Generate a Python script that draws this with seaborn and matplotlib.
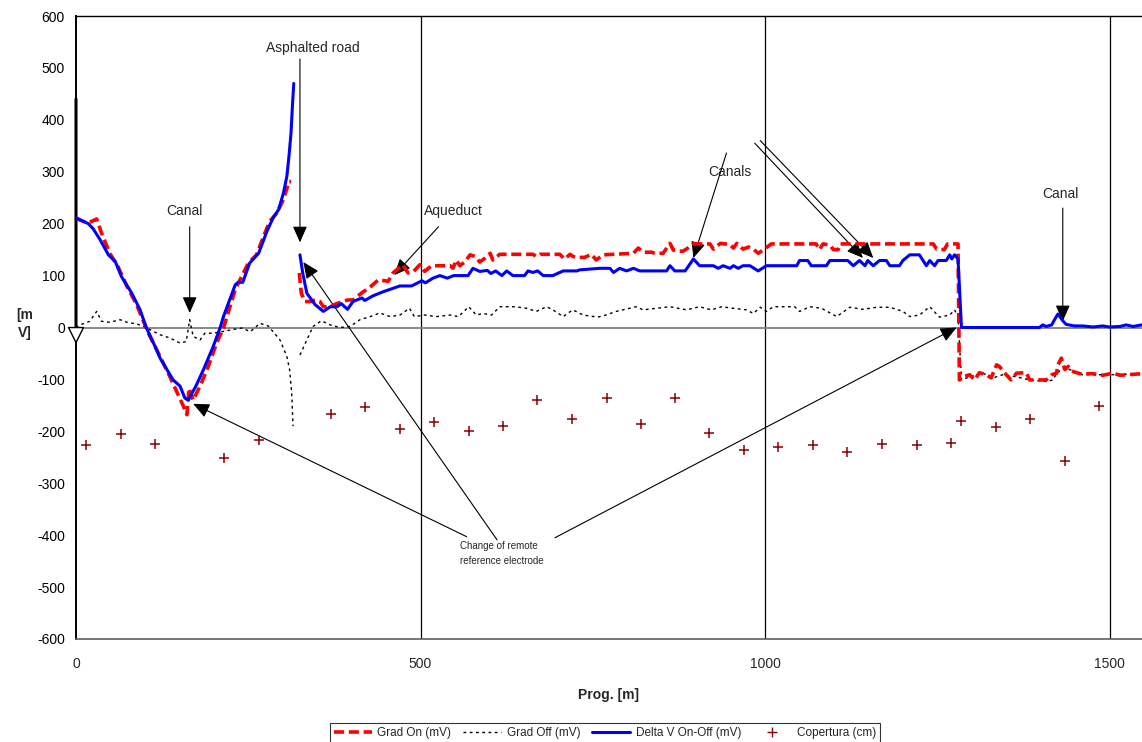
import matplotlib
matplotlib.use("Agg")
import matplotlib.pyplot as plt
from matplotlib.lines import Line2D
import seaborn as sns

# Delta V On-Off (mV) - two pieces, gap around the asphalted road
dv_x_a = [0, 18, 25, 35, 47, 57, 66, 81, 93, 102,
          117, 122, 141, 151, 158, 163, 175, 185, 199, 209,
          214, 231, 235, 242, 252, 265, 277, 286, 294, 301,
          306, 309, 312, 314, 316]
dv_y_a = [211, 200, 190, 169, 140, 127, 98, 66, 34, 0,
          -43, -59, -101, -113, -136, -140, -110, -81, -37, -1,
          21, 82, 87, 87, 124, 143, 185, 211, 227, 259,
          291, 329, 374, 425, 470]
dv_x_b = [325, 329, 335, 347, 359, 369, 379, 385, 394, 402,
          415, 419, 431, 446, 470, 487, 502, 507, 518, 528,
          539, 548, 569, 576, 586, 597, 602, 609, 618, 625,
          634, 651, 656, 663, 670, 678, 692, 707, 727, 731,
          760, 775, 780, 789, 799, 809, 818, 842, 857, 862,
          869, 884, 896, 905, 925, 932, 939, 949, 954, 961,
          968, 978, 990, 1002, 1007, 1046, 1050, 1062, 1067, 1089,
          1094, 1120, 1128, 1137, 1145, 1149, 1157, 1166, 1176, 1181,
          1195, 1200, 1210, 1224, 1234, 1239, 1246, 1251, 1263, 1268,
          1271, 1275, 1280, 1285, 1398, 1403, 1408, 1416, 1420, 1425,
          1432, 1437, 1449, 1461, 1476, 1490, 1500, 1515, 1524, 1534,
          1547]
dv_y_b = [140, 105, 66, 44, 31, 40, 40, 46, 35, 50,
          57, 52, 61, 69, 80, 80, 90, 86, 95, 100,
          95, 100, 100, 114, 108, 110, 104, 109, 100, 109,
          100, 100, 109, 106, 109, 100, 100, 109, 109, 111,
          114, 114, 106, 114, 109, 114, 109, 109, 109, 119,
          109, 109, 132, 119, 119, 114, 119, 114, 119, 114,
          119, 119, 109, 119, 119, 119, 129, 129, 119, 119,
          129, 129, 119, 129, 119, 129, 119, 129, 129, 119,
          119, 129, 140, 140, 119, 129, 119, 129, 129, 140,
          132, 140, 132, 0, 0, 5, 2, 5, 15, 26,
          13, 6, 3, 3, 1, 3, 1, 2, 5, 2,
          5]

# Grad On (mV)
on_x_a = [0, 6, 15, 22, 30, 37, 49, 61, 74, 88,
          105, 122, 136, 146, 156, 161, 164, 170, 182, 192,
          204, 214, 231, 250, 262, 272, 281, 291, 301, 306,
          309, 312]
on_y_a = [211, 207, 202, 204, 209, 182, 143, 117, 79, 44,
          -11, -56, -94, -123, -152, -168, -117, -140, -107, -75,
          -30, -1, 73, 124, 140, 175, 204, 220, 246, 268,
          281, 281]
on_x_b = [324, 327, 332, 340, 347, 354, 359, 369, 378, 388,
          394, 402, 415, 427, 439, 453, 460, 474, 482, 490,
          499, 506, 516, 543, 547, 552, 557, 564, 572, 579,
          586, 593, 601, 605, 615, 663, 668, 673, 702, 709,
          717, 721, 726, 738, 748, 755, 765, 809, 816, 823,
          835, 840, 852, 862, 867, 874, 881, 888, 896, 920,
          925, 935, 949, 954, 959, 968, 976, 983, 990, 997,
          1009, 1074, 1079, 1084, 1094, 1099, 1106, 1109, 1244, 1249,
          1260, 1265, 1280, 1282, 1287, 1297, 1304, 1311, 1321, 1328,
          1336, 1340, 1350, 1357, 1365, 1379, 1384, 1408, 1416, 1423,
          1425, 1430, 1435, 1440, 1445, 1457, 1476, 1490, 1505, 1515,
          1547]
on_y_b = [105, 66, 50, 50, 53, 50, 40, 40, 46, 50,
          53, 53, 67, 78, 92, 89, 105, 121, 105, 108,
          121, 108, 119, 119, 114, 130, 119, 126, 140, 137,
          126, 133, 143, 130, 141, 141, 137, 141, 141, 132,
          141, 137, 135, 135, 141, 130, 140, 143, 153, 145,
          145, 143, 143, 162, 149, 147, 147, 153, 161, 161,
          151, 162, 160, 153, 162, 151, 155, 151, 143, 149,
          161, 161, 150, 161, 159, 150, 150, 161, 161, 151,
          150, 161, 161, -101, -95, -91, -101, -87, -91, -97,
          -72, -75, -91, -101, -88, -87, -101, -101, -91, -88,
          -72, -59, -81, -75, -84, -89, -89, -92, -88, -92,
          -89]

# Grad Off (mV)
off_x_a = [0, 6, 20, 30, 37, 49, 64, 74, 88, 102,
           107, 122, 136, 151, 160, 165, 170, 180, 187, 199,
           212, 227, 241, 253, 267, 279, 286, 296, 306, 310,
           313, 315]
off_y_a = [0, 5, 12, 31, 12, 10, 15, 10, 7, 0,
           -4, -14, -20, -30, -27, 15, -17, -24, -11, -11,
           -8, -4, -1, -8, 8, 3, -8, -24, -56, -81,
           -126, -190]
off_x_b = [325, 335, 344, 356, 369, 383, 398, 412, 427, 441,
           456, 470, 484, 491, 506, 523, 543, 555, 570, 581,
           591, 603, 615, 637, 654, 668, 683, 692, 707, 721,
           736, 757, 769, 784, 813, 823, 842, 862, 886, 905,
           922, 937, 954, 973, 983, 993, 1002, 1012, 1043, 1050,
           1065, 1082, 1104, 1123, 1142, 1162, 1181, 1200, 1210, 1224,
           1239, 1253, 1268, 1275, 1280, 1285, 1297, 1316, 1331, 1345,
           1365, 1384, 1408, 1418, 1423, 1430, 1437, 1447, 1461, 1481,
           1500, 1547]
off_y_b = [-53, -24, 2, 13, 5, 0, 2, 15, 21, 28,
           21, 24, 37, 21, 24, 21, 24, 21, 40, 24,
           27, 24, 40, 40, 37, 31, 40, 34, 21, 34,
           24, 20, 24, 31, 40, 34, 37, 40, 34, 40,
           34, 40, 37, 34, 27, 39, 31, 40, 40, 31,
           40, 37, 21, 39, 35, 39, 39, 31, 21, 24,
           40, 20, 24, 34, 21, -101, -95, -88, -97, -91,
           -95, -101, -104, -101, -88, -81, -78, -84, -91, -91,
           -91, -89]

# Copertura (cm)
cop_x = [15, 65, 115, 215, 265, 370, 419, 470, 520, 570,
         620, 669, 720, 770, 820, 869, 919, 969, 1019, 1070,
         1119, 1169, 1220, 1270, 1285, 1335, 1384, 1435, 1484]
cop_y = [-226, -205, -224, -252, -216, -166, -153, -195, -182, -200,
         -190, -140, -176, -135, -185, -135, -203, -235, -231, -226,
         -239, -225, -226, -223, -181, -191, -176, -257, -152]

sns.set_style("white")
plt.rcParams['font.family'] = ['Liberation Sans', 'DejaVu Sans']
plt.rcParams['axes.unicode_minus'] = False

fig = plt.figure(figsize=(11.42, 7.42), dpi=100)
ax = fig.add_axes([76 / 1142, 1 - 639 / 742, 1 - 76 / 1142, 623 / 742])

for xv in [500, 1000, 1500]:
    ax.axvline(xv, color='black', lw=0.9, zorder=1)
ax.axhline(0, color='#808080', lw=1.3, zorder=1)

red = '#FF0000'
blue = '#0000FF'
dash_red = (0, (2.8, 1.3))
dot_blk = (0, (2.0, 2.5))

for xs, ys in [(off_x_a, off_y_a), (off_x_b, off_y_b)]:
    sns.lineplot(x=xs, y=ys, ax=ax, color='black', lw=1.0, linestyle=dot_blk,
                 sort=False, estimator=None, legend=False, zorder=3)
for xs, ys in [(on_x_a, on_y_a), (on_x_b, on_y_b)]:
    sns.lineplot(x=xs, y=ys, ax=ax, color=red, lw=2.6, linestyle=dash_red,
                 sort=False, estimator=None, legend=False, zorder=4)
for xs, ys in [(dv_x_a, dv_y_a), (dv_x_b, dv_y_b)]:
    sns.lineplot(x=xs, y=ys, ax=ax, color=blue, lw=2.2,
                 sort=False, estimator=None, legend=False, zorder=5)
sns.scatterplot(x=cop_x, y=cop_y, ax=ax, marker='+', color='#8B0000', s=45,
                linewidth=1.1, legend=False, zorder=6)

ax.set_xlim(0, 1547)
ax.set_ylim(-600, 600)
ax.set_yticks(range(-600, 601, 100))
ax.set_xticks([0, 500, 1000, 1500])
ax.tick_params(axis='y', direction='inout', length=9, width=1.2, labelsize=10, colors='black')
ax.tick_params(axis='x', length=0, labelsize=10, pad=13)
ax.spines['left'].set_linewidth(1.4)
ax.spines['left'].set_color('black')
ax.spines['top'].set_color('black')
ax.spines['top'].set_linewidth(1.0)
ax.spines['bottom'].set_color('#606060')
ax.spines['bottom'].set_linewidth(1.2)
ax.spines['right'].set_visible(False)
ax.set_xlabel('Prog. [m]', fontsize=10, fontweight='bold', labelpad=12)
ax.set_ylabel('')
fig.text(25 / 1142, 1 - 324 / 742, '[m\nV]', fontsize=10, fontweight='bold',
         ha='center', va='center', linespacing=1.3)

arrow = dict(arrowstyle='-|>,head_length=0.9,head_width=0.4', color='black',
             lw=0.8, shrinkA=0, shrinkB=0, mutation_scale=11)
arrow_open = dict(arrowstyle='-|>,head_length=0.9,head_width=0.45', fc='white',
                  ec='black', lw=1.0, shrinkA=0, shrinkB=0, mutation_scale=12)

# leftover arrow along the y axis at the start of the survey
ax.annotate('', xy=(0, 0), xytext=(0, 440),
            arrowprops=dict(arrowstyle='-', color='black', lw=2.2, shrinkA=0, shrinkB=0),
            annotation_clip=False)
ax.annotate('', xy=(0, -32), xytext=(0, 0), arrowprops=arrow_open, annotation_clip=False)

ax.text(158, 225, 'Canal', fontsize=10, ha='center', va='center')
ax.annotate('', xy=(165, 28), xytext=(165, 194), arrowprops=arrow)

ax.text(344, 538, 'Asphalted road', fontsize=10, ha='center', va='center')
ax.annotate('', xy=(325, 164), xytext=(325, 517), arrowprops=arrow)

ax.text(548, 225, 'Aqueduct', fontsize=10, ha='center', va='center')
ax.annotate('', xy=(462, 101), xytext=(526, 194), arrowprops=arrow)

ax.text(949, 300, 'Canals', fontsize=10, ha='center', va='center')
ax.annotate('', xy=(896, 134), xytext=(944, 336), arrowprops=arrow)
ax.annotate('', xy=(1142, 134), xytext=(985, 355), arrowprops=arrow)
ax.annotate('', xy=(1157, 134), xytext=(993, 360), arrowprops=arrow)

ax.text(1428, 257, 'Canal', fontsize=10, ha='center', va='center')
ax.annotate('', xy=(1432, 12), xytext=(1432, 230), arrowprops=arrow)

ax.text(557, -412, 'Change of remote\nreference electrode', fontsize=7, ha='left',
        va='top', linespacing=1.6)
ax.annotate('', xy=(170, -147), xytext=(567, -403), arrowprops=arrow)
ax.annotate('', xy=(330, 126), xytext=(611, -409), arrowprops=arrow)
ax.annotate('', xy=(1278, 0), xytext=(695, -405), arrowprops=arrow)

handles = [
    Line2D([], [], color=red, lw=2.6, linestyle=dash_red),
    Line2D([], [], color='black', lw=1.0, linestyle=dot_blk),
    Line2D([], [], color=blue, lw=2.2),
    Line2D([], [], color='#8B0000', marker='+', linestyle='none', markersize=7),
]
labels = ['Grad On (mV)', 'Grad Off (mV)', 'Delta V On-Off (mV)', 'Copertura (cm)']
leg = fig.legend(handles, labels, loc='center', ncol=4,
                 bbox_to_anchor=(605 / 1142, 1 - 733 / 742), fontsize=8.5,
                 frameon=True, fancybox=False, edgecolor='black', borderpad=0.3,
                 handlelength=3.2, columnspacing=1.0, handletextpad=0.5)
leg.get_frame().set_linewidth(0.8)

fig.savefig('out.png', dpi=100)
